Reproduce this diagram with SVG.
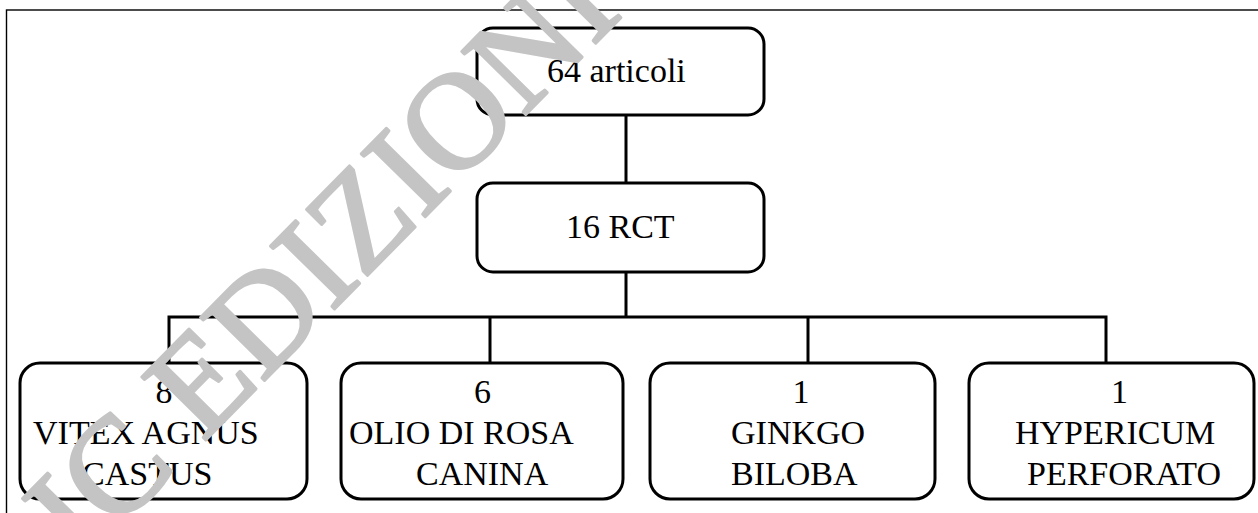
<svg xmlns="http://www.w3.org/2000/svg" width="1258" height="513" viewBox="0 0 1258 513">
<style>
.box{fill:#fff;stroke:#000;stroke-width:3}
.lbl{font-family:"Liberation Serif","Times New Roman",serif;font-size:34px;fill:#000}
.conn{fill:none;stroke:#000;stroke-width:3}
.wm{font-family:"Liberation Serif","Times New Roman",serif;font-size:137px;fill:#c4c4c4;stroke:#c4c4c4;stroke-width:3;stroke-linejoin:round}
</style>
<rect x="0" y="0" width="1258" height="513" fill="#fff"/>
<rect x="6.5" y="10" width="1270" height="520" fill="none" stroke="#000" stroke-width="1.4"/>
<g id="connectors">
<path class="conn" d="M626 115V183M626 272V317M169 363V317H1106V363M490 317V363M808 317V363"/>
</g>
<g id="n64">
<rect class="box" x="477" y="28" width="287" height="87" rx="16"/>
<text class="lbl" x="547" y="82">64 articoli</text>
</g>
<g id="n16">
<rect class="box" x="477" y="183" width="287" height="89" rx="16"/>
<text class="lbl" x="566" y="238">16 RCT</text>
</g>
<g id="vitex">
<rect class="box" x="20" y="363" width="287" height="136" rx="20"/>
<text class="lbl" x="155.5" y="403">8</text>
<text class="lbl" x="33" y="444">VITEX AGNUS</text>
<text class="lbl" x="82" y="485">CASTUS</text>
</g>
<g id="rosa">
<rect class="box" x="341" y="363" width="282" height="136" rx="20"/>
<text class="lbl" x="474" y="403">6</text>
<text class="lbl" x="349" y="444">OLIO DI ROSA</text>
<text class="lbl" x="416" y="485">CANINA</text>
</g>
<g id="ginkgo">
<rect class="box" x="650" y="363" width="285" height="136" rx="20"/>
<text class="lbl" x="792.5" y="403">1</text>
<text class="lbl" x="731" y="444">GINKGO</text>
<text class="lbl" x="731" y="485">BILOBA</text>
</g>
<g id="hypericum">
<rect class="box" x="969" y="363" width="285" height="136" rx="20"/>
<text class="lbl" x="1111" y="403">1</text>
<text class="lbl" x="1015" y="444">HYPERICUM</text>
<text class="lbl" x="1027" y="485">PERFORATO</text>
</g>
<text class="wm" transform="translate(83,565) rotate(-45.5)">IC EDIZIONI</text>
</svg>
